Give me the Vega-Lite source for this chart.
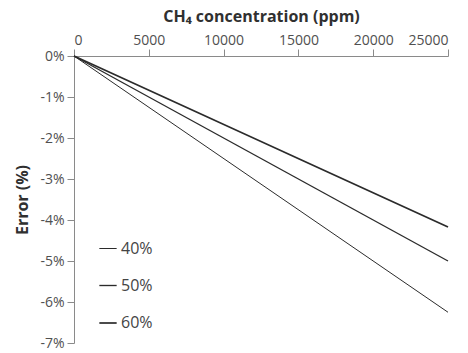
{
  "$schema": "https://vega.github.io/schema/vega-lite/v6.json",
  "width": 374,
  "height": 287,
  "autosize": {"type": "none"},
  "padding": {"left": 74, "top": 56, "right": 20, "bottom": 10},
  "background": "white",
  "config": {
    "font": "Open Sans",
    "view": {"stroke": null},
    "axis": {
      "grid": false,
      "domainColor": "#8a8a8a",
      "tickColor": "#8a8a8a",
      "labelColor": "#505050",
      "labelFontSize": 14,
      "titleColor": "#303030",
      "titleFontSize": 16,
      "titleFontWeight": "bold",
      "tickSize": 7
    }
  },
  "data": {
    "values": [
      {"ppm": 0, "error": 0, "series": "40%"},
      {"ppm": 25000, "error": -6.25, "series": "40%"},
      {"ppm": 0, "error": 0, "series": "50%"},
      {"ppm": 25000, "error": -5.0, "series": "50%"},
      {"ppm": 0, "error": 0, "series": "60%"},
      {"ppm": 25000, "error": -4.17, "series": "60%"}
    ]
  },
  "mark": {"type": "line", "color": "#2b2b2b", "strokeCap": "butt"},
  "encoding": {
    "x": {
      "field": "ppm",
      "type": "quantitative",
      "scale": {"domain": [0, 25000], "nice": false},
      "axis": {
        "orient": "top",
        "values": [0, 5000, 10000, 15000, 20000, 25000],
        "format": "d",
        "title": "CH₄ concentration (ppm)",
        "titlePadding": 9,
        "labelPadding": 2
      }
    },
    "y": {
      "field": "error",
      "type": "quantitative",
      "scale": {"domain": [-7, 0], "nice": false},
      "axis": {
        "values": [0, -1, -2, -3, -4, -5, -6, -7],
        "labelExpr": "datum.value + '%'",
        "labelPadding": 3,
        "title": "Error (%)",
        "titlePadding": 9
      }
    },
    "strokeWidth": {
      "field": "series",
      "type": "nominal",
      "scale": {"domain": ["40%", "50%", "60%"], "range": [1, 1.7, 3]},
      "legend": {
        "orient": "none",
        "legendX": 24,
        "legendY": 183,
        "title": null,
        "symbolType": "stroke",
        "symbolStrokeColor": "#2b2b2b",
        "symbolSize": 300,
        "rowPadding": 19,
        "labelFontSize": 16,
        "labelColor": "#444444",
        "labelOffset": 3
      }
    }
  }
}
